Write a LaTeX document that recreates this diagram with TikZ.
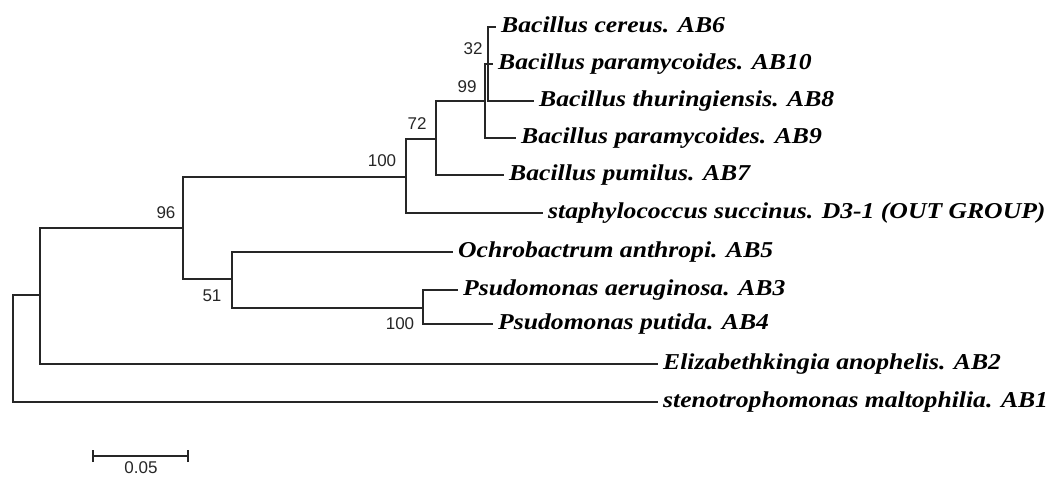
\documentclass[tikz,border=0pt]{standalone}
\usepackage{fontspec}
\newfontfamily\leaffont[FakeStretch=1.13]{Liberation Serif}
\newfontfamily\numfont{Liberation Sans}
\begin{document}
\begin{tikzpicture}[x=1pt,y=-1pt,
  branch/.style={draw=black!85, line width=1.6pt, line cap=rect},
  leaf/.style={anchor=west, inner xsep=6pt, inner ysep=0pt, text height=16pt, text depth=5pt,
    font=\leaffont\bfseries\itshape\fontsize{22.7}{24}\selectfont},
  boot/.style={inner sep=0pt, font=\numfont\fontsize{17}{18}\selectfont, text=black!85}]
\useasboundingbox (0,0) rectangle (1053,479);
% internal nodes
\coordinate (root) at (13,348);
\coordinate (nA) at (40,295);
\coordinate (n96) at (183,228);
\coordinate (n100t) at (406,177);
\coordinate (n72) at (436,139);
\coordinate (n99) at (485,101);
\coordinate (n32) at (488,64);
\coordinate (n51) at (232,279);
\coordinate (n100b) at (423,308);
% leaves
\node[leaf] (AB6) at (495,27) {Bacillus cereus. AB6};
\node[leaf] (AB10) at (492,64) {Bacillus paramycoides. AB10};
\node[leaf] (AB8) at (533,101) {Bacillus thuringiensis. AB8};
\node[leaf] (AB9) at (515,138) {Bacillus paramycoides. AB9};
\node[leaf] (AB7) at (503,175) {Bacillus pumilus. AB7};
\node[leaf] (OG) at (542,213) {staphylococcus succinus. D3-1 (OUT GROUP)};
\node[leaf] (AB5) at (452,252) {Ochrobactrum anthropi. AB5};
\node[leaf] (AB3) at (457,290) {Psudomonas aeruginosa. AB3};
\node[leaf] (AB4) at (492,324) {Psudomonas putida. AB4};
\node[leaf] (AB2) at (657,364) {Elizabethkingia anophelis. AB2};
\node[leaf] (AB1) at (657,402) {stenotrophomonas maltophilia. AB1};
% branches
\draw[branch] (root) |- (nA);
\draw[branch] (root) |- (AB1.west);
\draw[branch] (nA) |- (n96);
\draw[branch] (nA) |- (AB2.west);
\draw[branch] (n96) |- (n100t);
\draw[branch] (n96) |- (n51);
\draw[branch] (n100t) |- (n72);
\draw[branch] (n100t) |- (OG.west);
\draw[branch] (n72) |- (n99);
\draw[branch] (n72) |- (AB7.west);
\draw[branch] (n99) |- (n32);
\draw[branch] (n99) |- (AB9.west);
\draw[branch] (n32) |- (AB6.west);
\draw[branch] (n32) |- (AB10.west);
\draw[branch] (n32) |- (AB8.west);
\draw[branch] (n51) |- (AB5.west);
\draw[branch] (n51) |- (n100b);
\draw[branch] (n100b) |- (AB3.west);
\draw[branch] (n100b) |- (AB4.west);
% bootstrap values
\node[boot] (b32) at (473,49) {32};
\node[boot] (b99) at (467,87) {99};
\node[boot] (b72) at (417,124) {72};
\node[boot] (b100t) at (382,161) {100};
\node[boot] (b96) at (166,213) {96};
\node[boot] (b51) at (212,296) {51};
\node[boot] (b100b) at (400,324) {100};
% scale bar
\coordinate (sbL) at (93,456);
\coordinate (sbR) at (188,456);
\draw[branch, line cap=butt] (sbL) -- (sbR);
\draw[branch, line cap=butt] ([yshift=-6pt]sbL) -- ([yshift=6pt]sbL);
\draw[branch, line cap=butt] ([yshift=-6pt]sbR) -- ([yshift=6pt]sbR);
\node[boot] (sblabel) at (141,468) {0.05};
\end{tikzpicture}
\end{document}
